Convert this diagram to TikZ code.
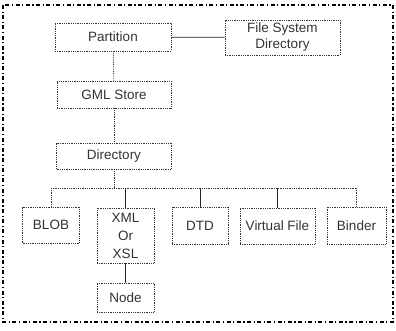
\documentclass[tikz,border=0pt]{standalone}
\usepackage{fontspec}
\setmainfont{Liberation Sans}
\usetikzlibrary{positioning}

\begin{document}
\begin{tikzpicture}[x=1pt,y=-1pt,
    box/.style={draw=black!80,densely dotted,line width=0.8pt,inner sep=1pt,
      text=black!80,font=\fontsize{13.5}{16}\selectfont,align=center},
    link/.style={draw=black!80,densely dotted,line width=0.8pt},
    solidlink/.style={draw=black!85,line width=0.7pt}]
  \useasboundingbox (0,0) rectangle (396,330);
  \draw[line width=1.1pt,dash pattern=on 4pt off 2.5pt on 1.2pt off 2.5pt]
    (3,5) rectangle (393,322);

  \node[box,minimum width=116pt,minimum height=28pt] (partition) at (113,37) {Partition};
  \node[box,minimum width=115pt,minimum height=35pt] (fsdir) at (282.5,37.5) {File System\\Directory};
  \node[box,minimum width=114pt,minimum height=27pt] (gml) at (114,94.5) {GML Store};
  \node[box,minimum width=115pt,minimum height=26pt] (directory) at (114,156) {Directory};

  \node[box,minimum width=57pt,minimum height=36pt] (blob) at (51,225) {BLOB};
  \node[box,minimum width=57pt,minimum height=55pt] (xml) at (125.5,235.5) {XML\\[2pt]Or\\[2pt]XSL};
  \node[box,minimum width=56pt,minimum height=37pt] (dtd) at (200,225.5) {DTD};
  \node[box,minimum width=75pt,minimum height=36pt] (vfile) at (277.5,226) {Virtual File};
  \node[box,minimum width=59pt,minimum height=37pt] (binder) at (356.5,225.5) {Binder};
  \node[box,minimum width=57pt,minimum height=29pt] (node) at (125.5,297.5) {Node};

  \coordinate (bus) at (114,188);

  \draw[solidlink] (partition) -- (fsdir);
  \draw[link] (partition) -- (gml);
  \draw[link] (gml) -- (directory);
  \draw[link] (directory) -- (bus);
  \draw[link] (blob.north |- bus) -- (binder.north |- bus);
  \draw[link] (blob.north |- bus) -- (blob.north);
  \draw[link] (binder.north |- bus) -- (binder.north);
  \foreach \n in {xml,dtd,vfile}
    \draw[solidlink] (\n.north |- bus) -- (\n.north);
  \draw[solidlink] (xml) -- (node);
\end{tikzpicture}
\end{document}
